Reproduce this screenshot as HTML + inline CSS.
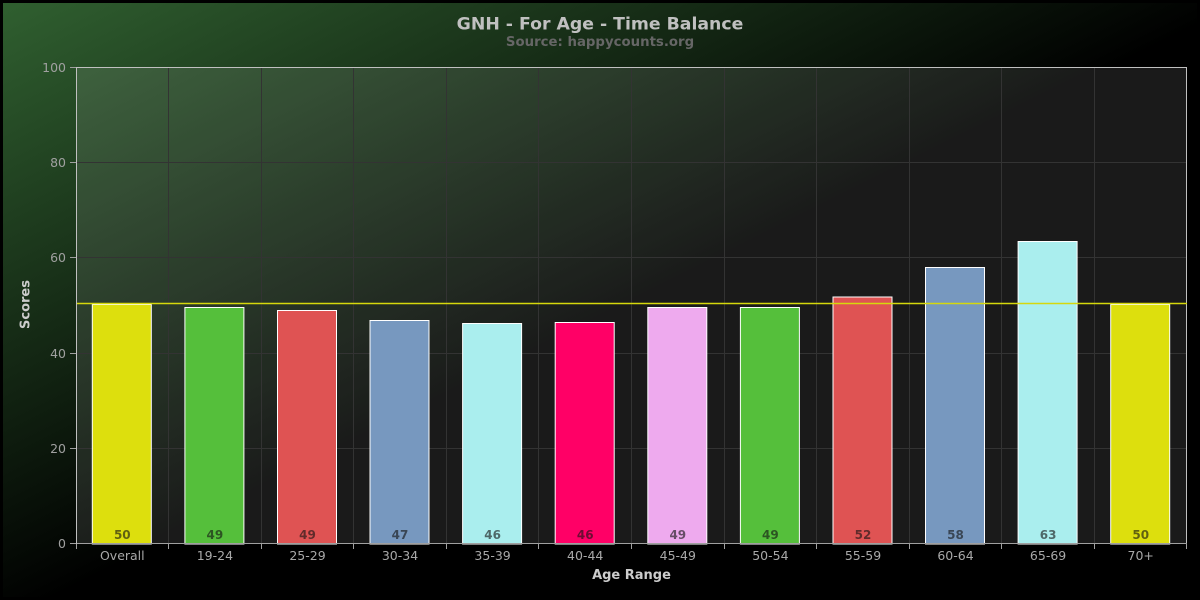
<!DOCTYPE html>
<html>
<head>
<meta charset="utf-8">
<style>
html,body{margin:0;padding:0;background:#000;}
svg{display:block;}
text{font-family:"DejaVu Sans","Liberation Sans",sans-serif;}
</style>
</head>
<body>
<svg width="1200" height="600" viewBox="0 0 1200 600" xmlns="http://www.w3.org/2000/svg">
<defs>
<linearGradient id="bg" gradientUnits="userSpaceOnUse" x1="0" y1="0" x2="250" y2="500">
<stop offset="0" stop-color="rgb(48,96,48)"/>
<stop offset="1" stop-color="rgb(0,0,0)"/>
</linearGradient>
</defs>
<rect x="0" y="0" width="1200" height="600" fill="url(#bg)"/>
<rect x="1.5" y="1.5" width="1197" height="597" fill="none" stroke="#000" stroke-width="3"/>

<!-- plot background -->
<rect x="76" y="67" width="1111" height="477" fill="rgba(255,255,255,0.1)"/>

<!-- grid lines -->
<g stroke="#333333" stroke-width="1" fill="none">
<path d="M76 448.5H1187M76 353.5H1187M76 257.5H1187M76 162.5H1187"/>
<path d="M168.5 67V544M261.5 67V544M353.5 67V544M446.5 67V544M538.5 67V544M631.5 67V544M724.5 67V544M816.5 67V544M909.5 67V544M1001.5 67V544M1094.5 67V544"/>
</g>

<!-- plot border -->
<rect x="76.5" y="67.5" width="1110" height="476" fill="none" stroke="#C0C0C0" stroke-width="1"/>

<!-- bars -->
<g stroke="#FFFFFF" stroke-width="1">
<rect x="92.3" y="304.5" width="59" height="239.5" fill="#DDDF0D"/>
<rect x="184.9" y="307.5" width="59" height="236.5" fill="#55BF3B"/>
<rect x="277.5" y="310.5" width="59" height="233.5" fill="#DF5353"/>
<rect x="370.0" y="320.5" width="59" height="223.5" fill="#7798BF"/>
<rect x="462.6" y="323.5" width="59" height="220.5" fill="#aaeeee"/>
<rect x="555.2" y="322.5" width="59" height="221.5" fill="#ff0066"/>
<rect x="647.8" y="307.5" width="59" height="236.5" fill="#eeaaee"/>
<rect x="740.4" y="307.5" width="59" height="236.5" fill="#55BF3B"/>
<rect x="833.0" y="297.0" width="59" height="247" fill="#DF5353"/>
<rect x="925.5" y="267.5" width="59" height="276.5" fill="#7798BF"/>
<rect x="1018.1" y="241.5" width="59" height="302.5" fill="#aaeeee"/>
<rect x="1110.7" y="304.5" width="59" height="239.5" fill="#DDDF0D"/>
</g>

<!-- average line -->
<path d="M76 303.5H1187" stroke="#D6D80C" stroke-width="1.5"/>

<!-- data labels -->
<g font-size="12" font-weight="bold" fill="rgba(20,20,20,0.62)" text-anchor="middle">
<text x="122.3" y="539">50</text>
<text x="214.9" y="539">49</text>
<text x="307.5" y="539">49</text>
<text x="400.0" y="539">47</text>
<text x="492.6" y="539">46</text>
<text x="585.2" y="539">46</text>
<text x="677.8" y="539">49</text>
<text x="770.4" y="539">49</text>
<text x="863.0" y="539">52</text>
<text x="955.5" y="539">58</text>
<text x="1048.1" y="539">63</text>
<text x="1140.7" y="539">50</text>
</g>

<!-- axes lines -->
<path d="M76 543.5H1187" stroke="#A0A0A0" stroke-width="1"/>
<path d="M76.5 67V544" stroke="#C0C0C0" stroke-width="1"/>

<!-- x ticks -->
<g stroke="#A0A0A0" stroke-width="1">
<path d="M76.5 544V549M168.5 544V549M261.5 544V549M353.5 544V549M446.5 544V549M538.5 544V549M631.5 544V549M724.5 544V549M816.5 544V549M909.5 544V549M1001.5 544V549M1094.5 544V549M1186.5 544V549"/>
<path d="M70 67.5H76M70 162.5H76M70 257.5H76M70 353.5H76M70 448.5H76M70 543.5H76"/>
</g>

<!-- y labels -->
<g font-size="12.5" fill="#A0A0A0" text-anchor="end">
<text x="66" y="72">100</text>
<text x="66" y="167">80</text>
<text x="66" y="262">60</text>
<text x="66" y="358">40</text>
<text x="66" y="453">20</text>
<text x="66" y="548">0</text>
</g>

<!-- x labels -->
<g font-size="12.5" fill="#A8A8A8" text-anchor="middle">
<text x="122.3" y="560">Overall</text>
<text x="214.9" y="560">19-24</text>
<text x="307.5" y="560">25-29</text>
<text x="400.0" y="560">30-34</text>
<text x="492.6" y="560">35-39</text>
<text x="585.2" y="560">40-44</text>
<text x="677.8" y="560">45-49</text>
<text x="770.4" y="560">50-54</text>
<text x="863.0" y="560">55-59</text>
<text x="955.5" y="560">60-64</text>
<text x="1048.1" y="560">65-69</text>
<text x="1140.7" y="560">70+</text>
</g>

<!-- axis titles -->
<text x="631.5" y="579" font-size="13" font-weight="bold" fill="#CCCCCC" text-anchor="middle">Age Range</text>
<text x="0" y="0" font-size="13" font-weight="bold" fill="#CCCCCC" text-anchor="middle" transform="translate(29.5,304.5) rotate(-90)">Scores</text>

<!-- titles -->
<text x="600" y="29.5" font-size="17.3" font-weight="bold" fill="#C0C0C0" text-anchor="middle">GNH - For Age - Time Balance</text>
<text x="600" y="46" font-size="13.3" font-weight="bold" fill="#666666" text-anchor="middle">Source: happycounts.org</text>
</svg>
</body>
</html>
